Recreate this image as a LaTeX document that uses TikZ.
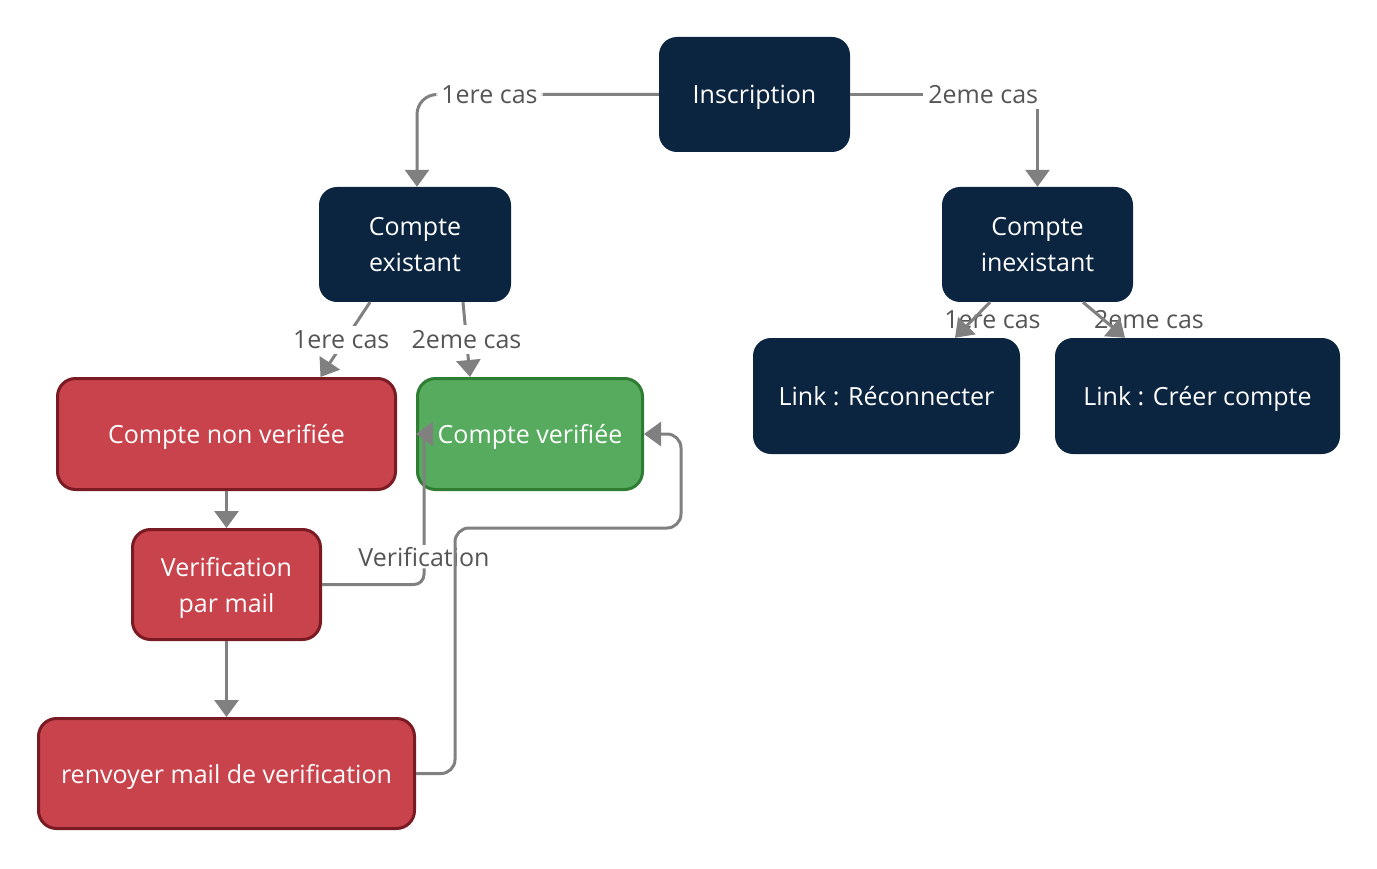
\documentclass[tikz,border=0pt]{standalone}
\usepackage{fontspec}
\setmainfont{Open Sans}
\usepackage{tikz}
\usetikzlibrary{positioning, arrows.meta}
\definecolor{navy}{HTML}{0B2541}
\definecolor{boxred}{HTML}{C8434C}
\definecolor{boxredline}{HTML}{7A1A22}
\definecolor{boxgreen}{HTML}{56AB5F}
\definecolor{boxgreenline}{HTML}{2E7D32}
\definecolor{linkgray}{HTML}{808080}
\definecolor{lblgray}{HTML}{555555}

\begin{document}
\begin{tikzpicture}[x=1pt, y=-1pt,
  box/.style={rounded corners=18pt, text=white, align=center, inner sep=0pt,
    text depth=0pt, font=\fontsize{25}{36}\selectfont},
  navybox/.style={box, fill=navy},
  redbox/.style={box, fill=boxred, draw=boxredline, line width=3pt},
  greenbox/.style={box, fill=boxgreen, draw=boxgreenline, line width=3pt},
  link/.style={draw=linkgray, line width=3pt, -{Triangle[length=17pt,width=24pt]}},
  lbl/.style={text=lblgray, font=\fontsize{25}{30}\selectfont, fill=white, inner sep=5pt}]
\useasboundingbox (0,0) rectangle (1377,869);

% top of the tree
\node[navybox, minimum width=191pt, minimum height=115pt] (insc) at (754.5,94.5) {Inscription};
\node[navybox, minimum width=192pt, minimum height=115pt] (ce) at (415,244.5) {Compte\\existant};
\node[navybox, minimum width=191pt, minimum height=115pt] (cin) at (1037.5,244.5) {Compte\\inexistant};

% right branch
\node[navybox, minimum width=267pt, minimum height=116pt] (lr) at (886.5,396) {Link : Réconnecter};
\node[navybox, minimum width=285pt, minimum height=116pt] (lc) at (1197.5,396) {Link : Créer compte};

% left branch
\node[redbox, minimum width=338pt, minimum height=111pt] (cnv) at (226.5,434) {Compte non verifiée};
\node[greenbox, minimum width=225pt, minimum height=111pt] (cv) at (530,434) {Compte verifiée};
\node[redbox, minimum width=188pt, minimum height=110pt] (vpm) at (226.5,584.5) {Verification\\par mail};
\node[redbox, minimum width=376pt, minimum height=110pt] (rv) at (226.5,773.5) {renvoyer mail de verification};

\coordinate (vc) at (424,446);
\coordinate (v1) at (455,528);
\coordinate (v2) at (681,434);

% connectors
\draw[link, rounded corners=20pt] (insc.west) -| ([xshift=2pt]ce.north) node[lbl, pos=0.35] {1ere cas};
\draw[link] (insc.east) -| (cin.north) node[lbl, pos=0.355] {2eme cas};

\draw[link] ([xshift=-45pt]ce.south) -- ([xshift=94pt]cnv.north) node[lbl, midway, xshift=-4pt] {1ere cas};
\draw[link] ([xshift=48pt]ce.south) -- ([xshift=-60pt]cv.north) node[lbl, midway] {2eme cas};

\draw[link] ([xshift=-47.5pt]cin.south) -- ([xshift=68.5pt]lr.north)
  node[lbl, midway, behind path, fill=none, xshift=20pt] {1ere cas};
\draw[link] ([xshift=45.5pt]cin.south) -- ([xshift=-72.5pt]lc.north)
  node[lbl, midway, behind path, fill=none, xshift=45pt] {2eme cas};

\draw[link] (cnv.south) -- (vpm.north);
\draw[link] (vpm.south) -- (rv.north);

\draw[link, rounded corners=10pt] (vpm.east) -| (vc)
  node[lbl, pos=0.6, inner sep=2pt] {Verification} .. controls (424,434) .. (cv.west);
\draw[link, rounded corners=14pt] (rv.east) -| (v1) -| (v2) -- (cv.east);
\end{tikzpicture}
\end{document}
